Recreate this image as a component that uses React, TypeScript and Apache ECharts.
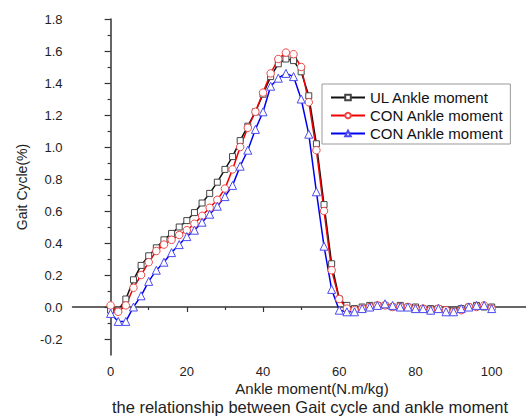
import React, { useEffect, useRef } from 'react';
import * as echarts from 'echarts';

const xValues = [0, 2, 4, 6, 8, 10, 12, 14, 16, 18, 20, 22, 24, 26, 28, 30, 32, 34, 36, 38, 40, 42, 44, 46, 48, 50, 52, 54, 56, 58, 60, 62, 64, 66, 68, 70, 72, 74, 76, 78, 80, 82, 84, 86, 88, 90, 92, 94, 96, 98, 100];

const ulAnkle = [-0.02, -0.02, 0.05, 0.17, 0.26, 0.32, 0.37, 0.42, 0.46, 0.5, 0.54, 0.59, 0.65, 0.71, 0.78, 0.86, 0.94, 1.04, 1.13, 1.22, 1.33, 1.44, 1.52, 1.55, 1.54, 1.47, 1.32, 1.02, 0.64, 0.27, 0.05, 0.01, -0.01, 0.0, 0.01, 0.01, 0.01, 0.0, 0.01, 0.0, 0.0, -0.01, -0.01, -0.01, -0.02, -0.02, -0.01, 0.0, 0.01, 0.0, 0.0];

const conAnkleRed = [0.01, -0.03, 0.01, 0.12, 0.2, 0.28, 0.35, 0.39, 0.42, 0.45, 0.48, 0.52, 0.57, 0.62, 0.67, 0.74, 0.86, 1.0, 1.12, 1.22, 1.34, 1.46, 1.55, 1.59, 1.58, 1.5, 1.28, 0.98, 0.6, 0.23, 0.05, -0.01, -0.02, -0.01, 0.0, 0.01, 0.01, 0.0, 0.0, 0.0, -0.01, -0.01, -0.02, -0.01, -0.02, -0.03, -0.02, 0.0, 0.0, 0.01, -0.01];

const conAnkleBlue = [-0.04, -0.09, -0.09, 0.0, 0.07, 0.16, 0.23, 0.28, 0.34, 0.39, 0.44, 0.48, 0.53, 0.58, 0.63, 0.69, 0.76, 0.88, 0.98, 1.11, 1.22, 1.38, 1.43, 1.46, 1.44, 1.3, 1.08, 0.72, 0.38, 0.11, -0.02, -0.03, -0.03, -0.01, 0.0, 0.01, 0.02, 0.01, 0.0, 0.0, -0.01, -0.01, -0.02, -0.01, -0.03, -0.03, -0.01, 0.0, 0.01, 0.01, -0.01];

const seriesNames = ['UL Ankle moment', 'CON Ankle moment', 'CON Ankle moment '];
const yMajorTicks = [-0.2, 0, 0.2, 0.4, 0.6, 0.8, 1.0, 1.2, 1.4, 1.6, 1.8];
const yMinorTicks = [-0.1, 0.1, 0.3, 0.5, 0.7, 0.9, 1.1, 1.3, 1.5, 1.7];
const xMajorTicks = [0, 20, 40, 60, 80, 100];
const xMinorTicks = [10, 30, 50, 70, 90];

const FONT = '"Liberation Sans", Arial, sans-serif';
const AXIS_COLOR = '#333';

function pairs(ys: number[]) {
  return xValues.map((x, i) => [x, ys[i]]);
}

export default function App() {
  const ref = useRef<HTMLDivElement>(null);
  useEffect(() => {
    if (!ref.current) return;
    const chart = echarts.init(ref.current, undefined, { renderer: 'svg' });
    const xBase = { type: 'value', min: -10, max: 109, splitLine: { show: false } };
    const yBase = { type: 'value', min: -0.3, max: 1.8, splitLine: { show: false } };
    const mkSeries = (name: string, data: number[], color: string, border: string, symbol: string, size: number) => ({
      type: 'line',
      name,
      data: pairs(data),
      symbol,
      symbolSize: size,
      showAllSymbol: true,
      lineStyle: { color, width: 1.5 },
      itemStyle: { color: '#fff', borderColor: border, borderWidth: 1 },
      emphasis: { disabled: true },
    });
    chart.setOption({
      animation: false,
      textStyle: { fontFamily: FONT },
      grid: { left: 72.5, right: 0, top: 19, bottom: 63, containLabel: false },
      xAxis: [
        {
          ...xBase,
          axisLine: { show: true, lineStyle: { color: AXIS_COLOR, width: 1.5 } },
          axisTick: { show: true, inside: false, length: 5, customValues: xMajorTicks, lineStyle: { color: AXIS_COLOR, width: 1.2 } },
          axisLabel: { show: true, customValues: xMajorTicks, margin: 10, fontSize: 13, color: '#222', fontFamily: FONT },
        },
        {
          ...xBase,
          position: 'bottom',
          axisLine: { show: false },
          axisTick: { show: true, inside: false, length: 3, customValues: xMinorTicks, lineStyle: { color: AXIS_COLOR, width: 1.2 } },
          axisLabel: { show: false },
        },
      ],
      yAxis: [
        {
          ...yBase,
          name: 'Gait Cycle(%)',
          nameLocation: 'middle',
          nameGap: 41,
          nameTextStyle: { fontSize: 14, color: '#222', fontFamily: FONT },
          axisLine: { show: true, lineStyle: { color: AXIS_COLOR, width: 1.5 } },
          axisTick: { show: true, inside: false, length: 6, customValues: yMajorTicks, lineStyle: { color: AXIS_COLOR, width: 1.2 } },
          axisLabel: {
            show: true,
            customValues: yMajorTicks,
            margin: 10,
            fontSize: 13,
            color: '#222',
            fontFamily: FONT,
            formatter: (v: number) => {
              const r = Math.round(v * 10) / 10;
              return r === 0 ? '0.0' : r.toFixed(1);
            },
          },
        },
        {
          ...yBase,
          position: 'left',
          axisLine: { show: false },
          axisTick: { show: true, inside: false, length: 3, customValues: yMinorTicks, lineStyle: { color: AXIS_COLOR, width: 1.2 } },
          axisLabel: { show: false },
        },
      ],
      legend: {
        orient: 'vertical',
        left: 322,
        top: 84,
        padding: [6, 7, 3, 8],
        itemWidth: 34,
        itemHeight: 7,
        itemGap: 3,
        borderColor: '#999',
        borderWidth: 1,
        backgroundColor: '#fff',
        textStyle: { fontSize: 15, color: '#111', fontFamily: FONT, lineHeight: 15 },
        formatter: (name: string) => name.trim(),
        data: seriesNames,
      },
      graphic: [
        {
          type: 'text',
          x: 312,
          y: 388,
          style: { text: 'Ankle moment(N.m/kg)', font: `15px ${FONT}`, fill: '#222', textAlign: 'center', textVerticalAlign: 'middle' },
        },
        {
          type: 'text',
          x: 310,
          y: 407,
          style: { text: 'the relationship between Gait cycle and ankle moment', font: `16.5px ${FONT}`, fill: '#222', textAlign: 'center', textVerticalAlign: 'middle' },
        },
      ],
      series: [
        mkSeries(seriesNames[0], ulAnkle, '#111', '#444', 'rect', 6),
        mkSeries(seriesNames[1], conAnkleRed, '#f00000', '#f04848', 'circle', 7.5),
        mkSeries(seriesNames[2], conAnkleBlue, '#0000f0', '#4a4af0', 'triangle', 8),
      ],
    });
    return () => chart.dispose();
  }, []);
  return <div ref={ref} style={{ width: 526, height: 418, position: 'absolute', left: 0, top: 0 }} />;
}
